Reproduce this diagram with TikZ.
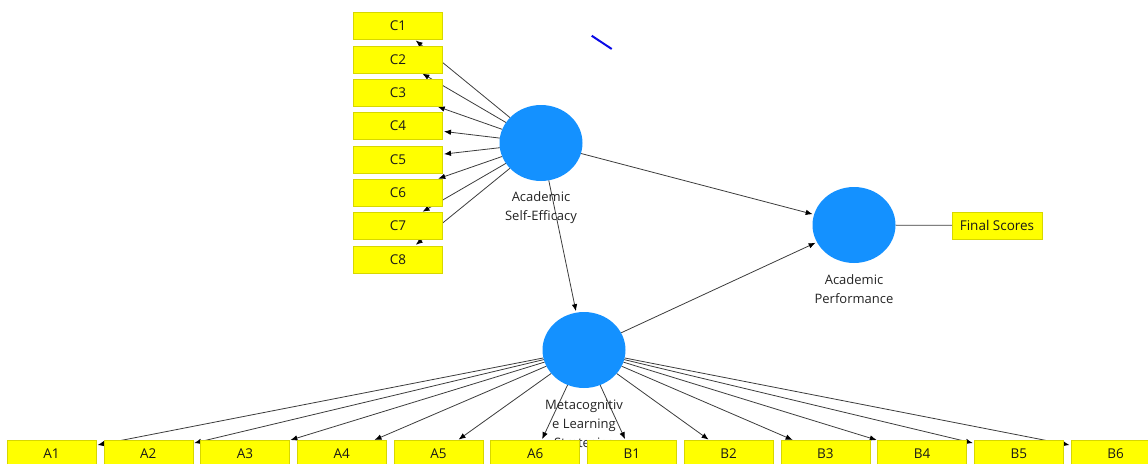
\documentclass[tikz,border=0pt]{standalone}
\usepackage{fontspec}
\setmainfont{Open Sans}
\usetikzlibrary{shapes.geometric,arrows.meta,calc}
\pgfdeclarelayer{background}
\pgfsetlayers{background,main}
\definecolor{lvblue}{RGB}{20,145,255}
\definecolor{indyel}{RGB}{255,255,0}
\definecolor{indborder}{RGB}{215,215,0}
\definecolor{linkgray}{RGB}{60,60,60}
\definecolor{labelgray}{RGB}{35,35,35}
\definecolor{strayblue}{RGB}{10,10,230}
\begin{document}
\begin{tikzpicture}[x=1pt,y=-1pt,
  ind/.style={draw=indborder, fill=indyel, minimum width=89pt, minimum height=27pt,
    inner sep=0pt, outer sep=0pt, font=\fontsize{13.5}{15}\selectfont, text=black!90},
  lv/.style={ellipse, fill=lvblue, minimum width=83pt, minimum height=76pt,
    inner sep=0pt, outer sep=0pt},
  lvlabel/.style={align=center, font=\fontsize{13}{19}\selectfont, text=labelgray, inner sep=0pt},
  link/.style={draw=linkgray, line width=0.8pt, -{Latex[length=7pt,width=5.5pt,color=black]}, shorten >=1.5pt},
  plainlink/.style={draw=linkgray, line width=0.8pt}]
\useasboundingbox (0,0) rectangle (1148,463);

% latent variables
\node[lv] (ASE) at (541,143) {};
\node[lv] (AP)  at (854,225) {};
\node[lv] (MLS) at (584,350) {};

% labels
\node[lvlabel] (ASEl) at (541,207.5) {Academic\\Self-Efficacy};
\node[lvlabel] (APl)  at (854,289) {Academic\\Performance};
\node[lvlabel] (MLSl) at (584,425) {Metacognitiv\\e Learning\\Strategies};

% C indicators
\foreach \i in {1,...,8} {
  \node[ind] (C\i) at (398,{26+33.33*(\i-1)}) {C\i};
}
% A and B indicators
\foreach \i in {1,...,6} {
  \node[ind] (A\i) at ({51.5+96.73*(\i-1)},454) {A\i};
  \node[ind] (B\i) at ({51.5+96.73*(\i+5)},454) {B\i};
}
% Final Scores
\node[ind, minimum width=90pt] (FS) at (997,225.5) {Final Scores};

% stray blue stroke
\coordinate (s1) at (591.7,35.7);
\coordinate (s2) at (611.7,49);
\draw[strayblue, line width=2pt] (s1) -- (s2);

% connectors
\begin{pgfonlayer}{background}
  \foreach \i in {1,...,8} { \draw[link] (ASE) -- (C\i); }
  \foreach \i in {1,...,6} {
    \draw[link] (MLS) -- (A\i);
    \draw[link] (MLS) -- (B\i);
  }
  \draw[link] (ASE) -- (MLS);
  \draw[link] (ASE) -- (AP);
  \draw[link] (MLS) -- (AP);
  \draw[plainlink] (AP) -- (FS);
\end{pgfonlayer}
\end{tikzpicture}
\end{document}
